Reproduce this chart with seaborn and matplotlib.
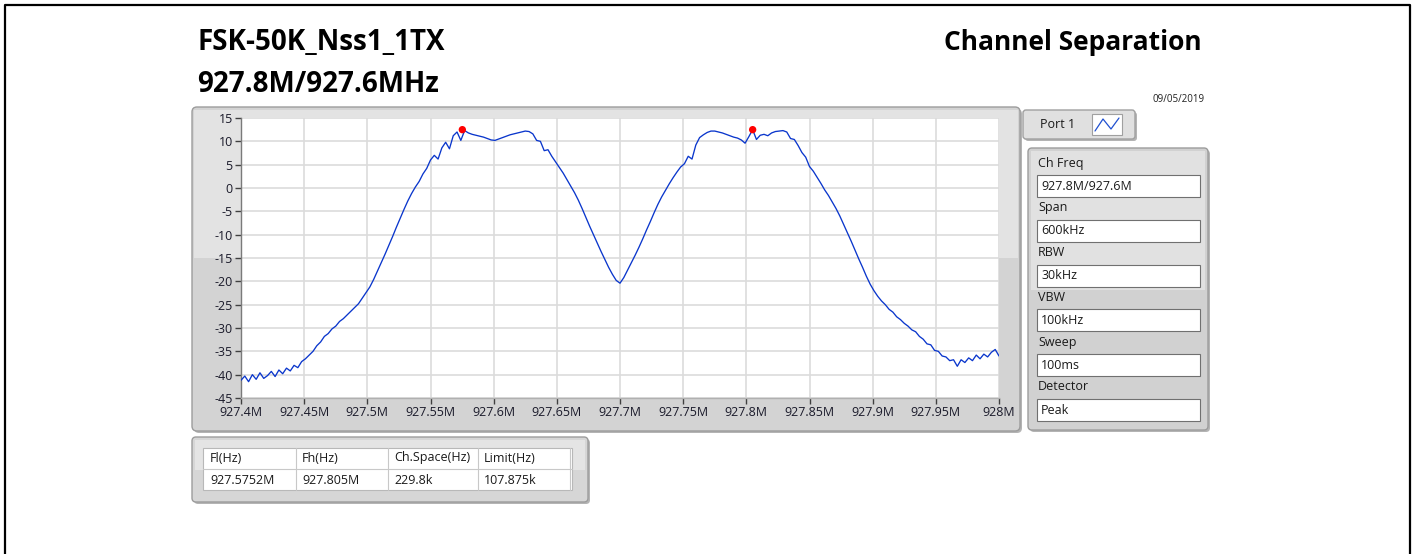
import numpy as np
import pandas as pd
import matplotlib
matplotlib.use("Agg")
import matplotlib.pyplot as plt
import seaborn as sns
from matplotlib.patches import FancyBboxPatch, Rectangle
from matplotlib.lines import Line2D
from matplotlib.ticker import MultipleLocator, FuncFormatter

# ---------------- data ----------------
title_left = "FSK-50K_Nss1_1TX"
subtitle_left = "927.8M/927.6MHz"
title_right = "Channel Separation"
date_text = "09/05/2019"

start_mhz = 927.4
stop_mhz = 928.0

# trace levels (dBm) read from the sweep, evenly spaced from start to stop
levels = [
    -41.2, -40.3, -41.5, -40.0, -41.0, -39.6, -40.8, -40.2, -39.3, -40.4,
    -39.0, -39.8, -38.6, -39.2, -38.0, -38.5, -37.2, -36.6, -35.8, -35.0,
    -33.8, -33.0, -31.8, -31.2, -30.2, -29.6, -28.6, -28.0, -27.2, -26.4,
    -25.6, -24.8, -23.6, -22.4, -21.2, -19.6, -17.8, -16.0, -14.2, -12.3,
    -10.4, -8.4, -6.5, -4.6, -2.8, -1.2, 0.2, 1.4, 3.0, 4.2,
    6.0, 7.0, 6.2, 8.6, 9.8, 8.4, 11.2, 12.0, 10.2, 12.3,
    11.8, 11.5, 11.3, 11.1, 10.9, 10.6, 10.3, 10.2, 10.5, 10.8,
    11.1, 11.4, 11.6, 11.8, 12.0, 12.2, 12.1, 11.6, 10.2, 10.0,
    8.0, 8.2, 6.8, 5.6, 4.4, 3.2, 1.8, 0.4, -1.0, -2.6,
    -4.4, -6.3, -8.2, -10.0, -11.8, -13.6, -15.3, -17.0, -18.5, -19.8,
    -20.4, -19.2, -17.6, -16.0, -14.4, -12.7, -10.9, -9.0, -7.2, -5.3,
    -3.5, -1.9, -0.5, 0.9, 2.2, 3.4, 4.5, 5.2, 6.8, 6.2,
    9.2, 10.8, 11.4, 11.9, 12.2, 12.2, 12.0, 11.8, 11.5, 11.2,
    10.9, 10.7, 10.3, 9.6, 11.0, 12.5, 10.4, 11.3, 11.5, 11.2,
    11.8, 12.1, 12.2, 12.3, 12.0, 10.6, 10.4, 9.1, 7.6, 6.6,
    4.6, 3.6, 2.3, 1.0, -0.4, -1.6, -3.0, -4.4, -6.0, -7.8,
    -9.6, -11.4, -13.3, -15.2, -17.0, -18.9, -20.6, -22.0, -23.2, -24.2,
    -25.0, -26.0, -26.6, -27.6, -28.2, -29.0, -29.6, -30.4, -30.8, -31.8,
    -32.4, -33.4, -33.6, -34.8, -35.0, -36.0, -36.2, -37.0, -36.8, -38.2,
    -36.8, -37.4, -36.4, -37.0, -35.8, -36.6, -35.6, -36.2, -35.2, -34.6,
    -36.0,
]

marker_freqs = [927.5752, 927.805]
marker_levels = [12.5, 12.5]

port_label = "Port 1"
param_labels = ["Ch Freq", "Span", "RBW", "VBW", "Sweep", "Detector"]
param_values = ["927.8M/927.6M", "600kHz", "30kHz", "100kHz", "100ms", "Peak"]

table_headers = ["Fl(Hz)", "Fh(Hz)", "Ch.Space(Hz)", "Limit(Hz)"]
table_values = ["927.5752M", "927.805M", "229.8k", "107.875k"]

# ---------------- style ----------------
sns.set_style("white")
plt.rcParams["font.family"] = ["Open Sans", "DejaVu Sans"]
plt.rcParams["axes.unicode_minus"] = False

W, H = 1415, 554
fig = plt.figure(figsize=(W / 100, H / 100), dpi=100)
fig.patch.set_facecolor("white")


def box(x0, y0, x1, y1, fc, ec="none", lw=0.0, r=0, z=-5):
    if r > 0:
        p = FancyBboxPatch((x0 / W, 1 - y1 / H), (x1 - x0) / W, (y1 - y0) / H,
                           boxstyle=f"round,pad=0,rounding_size={r / W}",
                           mutation_aspect=W / H, transform=fig.transFigure,
                           fc=fc, ec=ec, lw=lw, zorder=z)
    else:
        p = Rectangle((x0 / W, 1 - y1 / H), (x1 - x0) / W, (y1 - y0) / H,
                      transform=fig.transFigure, fc=fc, ec=ec, lw=lw, zorder=z)
    fig.add_artist(p)


def line(xs, ys, color, lw, z=5):
    fig.add_artist(Line2D([x / W for x in xs], [1 - y / H for y in ys],
                          transform=fig.transFigure, color=color, lw=lw, zorder=z))


def txt(x, y, s, **kw):
    fig.text(x / W, 1 - y / H, s, **kw)


# outer black frame
line([5, 5, 1410, 1410], [560, 5, 5, 560], "black", 1.6)

# titles
txt(197, 50, title_left, fontsize=20, weight="bold", va="baseline", color="black")
txt(197, 92, subtitle_left, fontsize=20, weight="bold", va="baseline", color="black")
txt(1202, 50, title_right, fontsize=19, weight="bold", va="baseline", ha="right", color="black")
txt(1205, 102, date_text, fontsize=7, va="baseline", ha="right", color="#202020")

# chart panel
box(194, 109, 1022, 433, "#b4b4b4", r=5, z=-7)
box(192, 107, 1020, 431, "#d3d3d3", ec="#9c9c9c", lw=1.0, r=5, z=-6)
box(194, 110, 1018, 258, "#e3e3e3", z=-5)

# ---------------- main plot ----------------
ax = fig.add_axes([241 / W, 1 - 398 / H, 758 / W, 280 / H])
ax.set_facecolor("white")
freqs = np.linspace(start_mhz, stop_mhz, len(levels))
df = pd.DataFrame({"freq": freqs, "level": levels})
sns.lineplot(data=df, x="freq", y="level", ax=ax, color="#0a36cc", lw=0.95, zorder=3)
sns.scatterplot(x=marker_freqs, y=marker_levels, ax=ax, color="#ff0000", s=28,
                edgecolor="none", zorder=6)

ax.set_xlim(start_mhz, stop_mhz)
ax.set_ylim(-45, 15)
ax.xaxis.set_major_locator(MultipleLocator(0.05))
ax.yaxis.set_major_locator(MultipleLocator(5))
ax.xaxis.set_major_formatter(FuncFormatter(
    lambda v, p: f"{v:.2f}".rstrip("0").rstrip(".") + "M"))
ax.yaxis.set_major_formatter(FuncFormatter(lambda v, p: f"{v:g}"))
ax.grid(True, color="#dcdcdc", lw=1.2)
ax.set_axisbelow(True)
ax.tick_params(axis="both", direction="out", length=4, width=1, color="#404040",
               labelsize=9, labelcolor="#1a1a2a", pad=2, bottom=True, left=True)
ax.set_xlabel("")
ax.set_ylabel("")
for s in ["top", "right"]:
    ax.spines[s].set_visible(False)
ax.spines["left"].set_color("#7a7a7a")
ax.spines["bottom"].set_color("#b0b0b0")
ax.spines["left"].set_linewidth(1.0)
ax.spines["bottom"].set_linewidth(1.0)

# ---------------- port button ----------------
box(1025, 112, 1137, 141, "#b4b4b4", r=3, z=-7)
box(1023, 110, 1135, 139, "#e0e0e0", ec="#a0a0a0", lw=1.0, r=3, z=-6)
txt(1040, 125, port_label, fontsize=9, va="center", color="#1a1a1a")
box(1092, 114, 1122, 135, "white", ec="#a0a0a0", lw=0.8, z=-4)
line([1095, 1103, 1111, 1119], [131, 119, 129, 118], "#2050d0", 0.9)

# ---------------- parameter panel ----------------
box(1030, 150, 1210, 432, "#b4b4b4", r=4, z=-7)
box(1028, 148, 1208, 430, "#d1d1d1", ec="#9c9c9c", lw=1.0, r=4, z=-6)
box(1031, 151, 1205, 290, "#e1e1e1", z=-5)
for k, (lab, val) in enumerate(zip(param_labels, param_values)):
    ly = 163 + 44.8 * k
    by0 = 175 + 44.8 * k
    by1 = 197 + 44.8 * k
    txt(1038, ly, lab, fontsize=9, va="center", color="#1a1a1a")
    box(1037, by0, 1200, by1, "white", ec="#707070", lw=0.8, z=-4)
    txt(1041, (by0 + by1) / 2, val, fontsize=9, va="center", color="#1a1a1a")

# ---------------- bottom table ----------------
box(194, 439, 590, 504, "#b4b4b4", r=4, z=-7)
box(192, 437, 588, 502, "#d6d6d6", ec="#9c9c9c", lw=1.0, r=4, z=-6)
box(195, 440, 585, 470, "#e4e4e4", z=-5)
box(203, 448, 572, 490, "white", ec="#b8b8b8", lw=0.8, z=-4)
line([203, 572], [469, 469], "#c8c8c8", 0.8)
for xv in [296, 388, 478, 570]:
    line([xv, xv], [448, 490], "#c8c8c8", 0.8)
col_x = [210, 302, 394, 484]
for cx, hd, vl in zip(col_x, table_headers, table_values):
    txt(cx, 458, hd, fontsize=9, va="center", color="#1a1a1a")
    txt(cx, 480, vl, fontsize=9, va="center", color="#1a1a1a")

fig.savefig("out.png", dpi=100, facecolor="white")
